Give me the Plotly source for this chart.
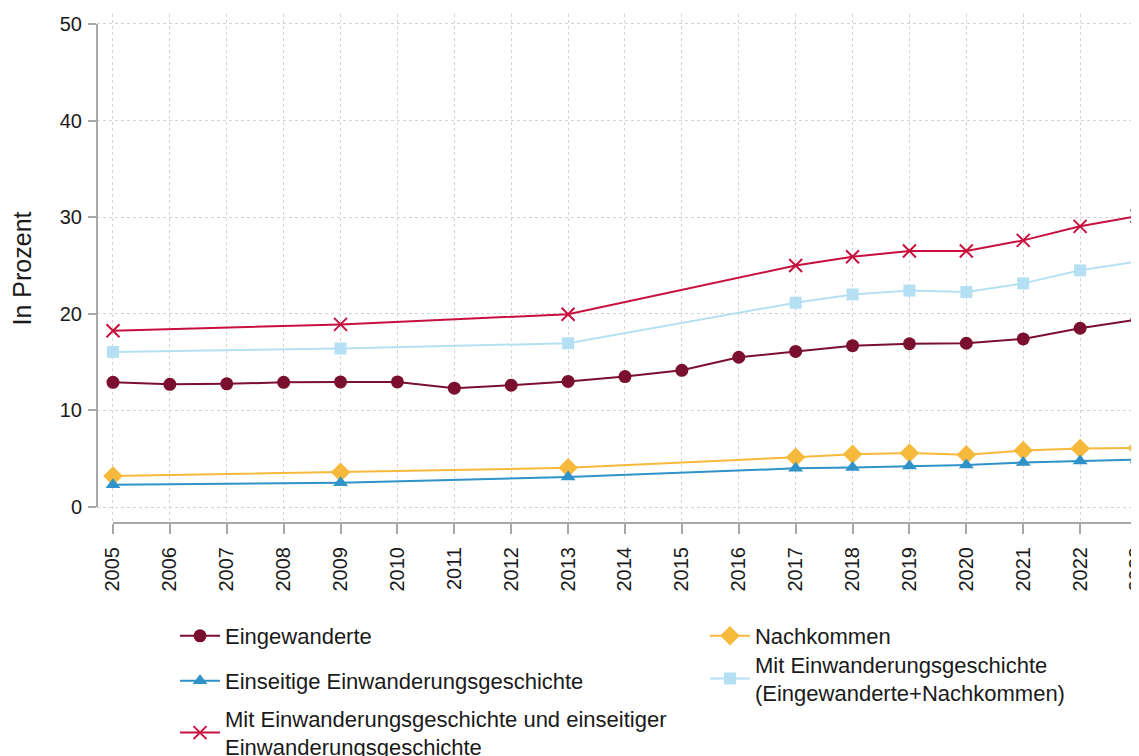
import plotly.graph_objects as go

years = list(range(2005, 2024))

eingewanderte_years = years
eingewanderte = [12.9, 12.7, 12.75, 12.9, 12.95, 12.95, 12.3, 12.6, 13.0, 13.5, 14.15, 15.5, 16.1, 16.7, 16.9, 16.95, 17.4, 18.5, 19.4]

sparse_years = [2005, 2009, 2013, 2017, 2018, 2019, 2020, 2021, 2022, 2023]
nachkommen = [3.2, 3.6, 4.05, 5.15, 5.45, 5.6, 5.4, 5.85, 6.05, 6.1]
einseitige = [2.3, 2.5, 3.1, 4.0, 4.1, 4.25, 4.35, 4.6, 4.75, 4.9]
mit_eing_nachk = [16.05, 16.4, 16.95, 21.15, 22.0, 22.4, 22.25, 23.15, 24.5, 25.4]
mit_einseitig = [18.25, 18.9, 19.95, 25.0, 25.9, 26.5, 26.5, 27.6, 29.05, 30.1]

y_ticks = [0, 10, 20, 30, 40, 50]

FONT = "Liberation Sans, Arial, sans-serif"
TXT = "#1a1a1a"
AXC = "#a8a8a8"

fig = go.Figure()

fig.add_trace(go.Scatter(
    x=eingewanderte_years, y=eingewanderte, name="Eingewanderte",
    mode="lines+markers", legend="legend",
    line=dict(color="#7b0f2f", width=2),
    marker=dict(symbol="circle", size=13, color="#7b0f2f"),
))
fig.add_trace(go.Scatter(
    x=sparse_years, y=nachkommen, name="Nachkommen",
    mode="lines+markers", legend="legend2",
    line=dict(color="#f6b93b", width=2),
    marker=dict(symbol="diamond", size=15, color="#f6b93b"),
))
fig.add_trace(go.Scatter(
    x=sparse_years, y=einseitige, name="Einseitige Einwanderungsgeschichte",
    mode="lines+markers", legend="legend3",
    line=dict(color="#2f92c8", width=2),
    marker=dict(symbol="triangle-up", size=13, color="#2f92c8"),
))
fig.add_trace(go.Scatter(
    x=sparse_years, y=mit_eing_nachk,
    name="Mit Einwanderungsgeschichte<br>(Eingewanderte+Nachkommen)",
    mode="lines+markers", legend="legend4",
    line=dict(color="#b5e0f3", width=2),
    marker=dict(symbol="square", size=12, color="#b5e0f3"),
))
fig.add_trace(go.Scatter(
    x=sparse_years, y=mit_einseitig,
    name="Mit Einwanderungsgeschichte und einseitiger<br>Einwanderungsgeschichte",
    mode="lines+markers", legend="legend5",
    line=dict(color="#c8103e", width=2),
    marker=dict(symbol="x-thin", size=13, color="#c8103e",
                line=dict(color="#c8103e", width=2)),
))

# offset axis lines (Stata style)
fig.add_shape(type="line", xref="paper", yref="y", x0=0, x1=0, y0=0, y1=50,
              line=dict(color=AXC, width=2))
fig.add_shape(type="line", xref="x", yref="paper", x0=2005, x1=2023.2, y0=0, y1=0,
              line=dict(color=AXC, width=2))

legend_common = dict(
    orientation="v", xanchor="left", yanchor="middle",
    font=dict(family=FONT, size=22, color=TXT),
    itemwidth=40, bgcolor="rgba(0,0,0,0)",
)

# page body adds 8px offset; figure coords = screen - 8
PLOT_H = 509.0
PLOT_BOTTOM = 515.0
def ly(center_screen):
    return -((center_screen - 8) - PLOT_BOTTOM) / PLOT_H

COL1_X = 0.0743
COL2_X = 0.579

fig.update_layout(
    width=1139, height=756,
    margin=dict(l=89, r=0, t=6, b=241, autoexpand=False),
    paper_bgcolor="white", plot_bgcolor="white",
    font=dict(family=FONT, size=19, color=TXT),
    showlegend=True,
    legend=dict(x=COL1_X, y=ly(636), **legend_common),
    legend2=dict(x=COL2_X, y=ly(636), **legend_common),
    legend3=dict(x=COL1_X, y=ly(681), **legend_common),
    legend4=dict(x=COL2_X, y=ly(679), **legend_common),
    legend5=dict(x=COL1_X, y=ly(733), **legend_common),
)

fig.update_xaxes(
    range=[2004.719, 2023.176], automargin=False,
    tickmode="array", tickvals=years, ticktext=[str(y) for y in years],
    tickangle=-90, ticklabeloverflow="allow",
    ticks="outside", ticklen=10, tickcolor=AXC, tickwidth=2,
    ticklabelstandoff=5,
    showline=False, zeroline=False,
    showgrid=True, gridcolor="#d4d4d4", griddash="dot", gridwidth=1,
    tickfont=dict(family=FONT, size=20, color=TXT),
)
fig.update_yaxes(
    range=[-1.656, 51.03], automargin=False,
    tickmode="array", tickvals=y_ticks, ticktext=[str(v) for v in y_ticks],
    ticks="outside", ticklen=8, tickcolor=AXC, tickwidth=2,
    ticklabelstandoff=2,
    showline=False, zeroline=False,
    showgrid=True, gridcolor="#d4d4d4", griddash="dot", gridwidth=1,
    tickfont=dict(family=FONT, size=20, color=TXT),
    title=dict(text="In Prozent", font=dict(family=FONT, size=25, color=TXT), standoff=21),
)

fig.write_html("out.html")
